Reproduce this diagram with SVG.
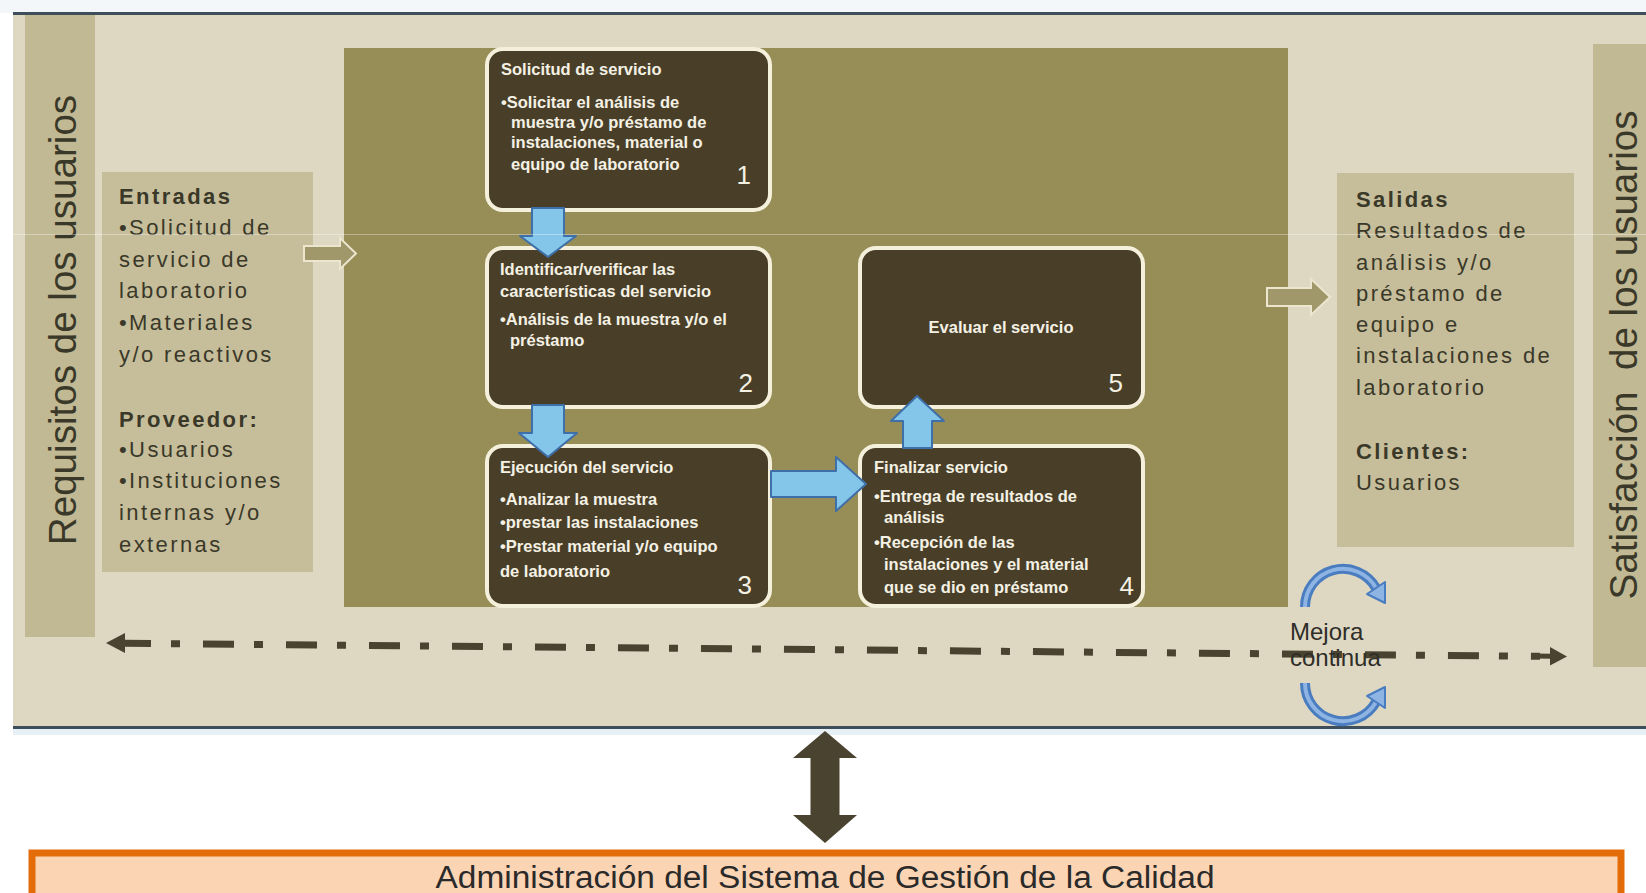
<svg xmlns="http://www.w3.org/2000/svg" width="1646" height="893" viewBox="0 0 1646 893">
<defs>
<style>
.bg{fill:#ded8c2}
.bar{fill:#c1b993}
.io{fill:#c6be9a}
.olive{fill:#978d56}
.proc{fill:#493f28;stroke:#f4f0dc;stroke-width:4}
.bt{font-family:'Liberation Sans',Arial,sans-serif;font-size:16.5px;font-weight:bold;fill:#f4f1e4}
.num{font-family:'Liberation Sans',Arial,sans-serif;font-size:26px;fill:#f4f1e4;text-anchor:end}
.side{font-family:'Liberation Sans',Arial,sans-serif;font-size:22px;letter-spacing:2.4px;fill:#3a3829}
.vt{font-family:'Liberation Sans',Arial,sans-serif;font-size:38.6px;fill:#3a3829;text-anchor:middle}
.blue{fill:#84c6ea;stroke:#3f6fa8;stroke-width:2;stroke-linejoin:round}
.olv{fill:#a0976a;stroke:#ece6cf;stroke-width:2}
.arcO{fill:none;stroke:#4a7cc0;stroke-width:10}
.arcI{fill:none;stroke:#8db4e2;stroke-width:4}
.arcH{fill:#8db4e2;stroke:#4a7cc0;stroke-width:2;stroke-linejoin:round}
.dk{fill:#4a4330}
</style>
</defs>
<rect x="0" y="0" width="1646" height="893" fill="#ffffff"/>
<rect x="0" y="0" width="1646" height="13" fill="#f3f7f9"/>
<rect class="bg" x="13" y="14" width="1633" height="713"/>
<line x1="13" y1="13.5" x2="1646" y2="13.5" stroke="#3e4e5a" stroke-width="3"/>
<line x1="13" y1="727.5" x2="1646" y2="727.5" stroke="#3e4e5a" stroke-width="3"/>
<rect x="13" y="729" width="1633" height="6" fill="#e6f0f5"/>

<g id="requisitos">
<rect class="bar" x="25" y="15" width="70" height="622"/>
<text class="vt" transform="translate(76 320) rotate(-90)">Requisitos de los usuarios</text>
</g>

<g id="entradas">
<rect class="io" x="102" y="172" width="211" height="400"/>
<text class="side"><tspan x="119" y="204" font-weight="bold">Entradas</tspan><tspan x="119" y="235">•Solicitud de</tspan><tspan x="119" y="267">servicio de</tspan><tspan x="119" y="298">laboratorio</tspan><tspan x="119" y="330">•Materiales</tspan><tspan x="119" y="362">y/o reactivos</tspan><tspan x="119" y="427" font-weight="bold">Proveedor:</tspan><tspan x="119" y="457">•Usuarios</tspan><tspan x="119" y="488">•Instituciones</tspan><tspan x="119" y="520">internas y/o</tspan><tspan x="119" y="552">externas</tspan></text>
</g>

<g id="proceso">
<rect class="olive" x="344" y="48" width="944" height="559"/>
</g>

<g id="paso1">
<rect class="proc" x="487" y="49" width="283" height="161" rx="16"/>
<text class="bt"><tspan x="501" y="75">Solicitud de servicio</tspan><tspan x="501" y="108">•Solicitar el análisis de</tspan><tspan x="511" y="128">muestra y/o préstamo de</tspan><tspan x="511" y="148">instalaciones, material o</tspan><tspan x="511" y="170">equipo de laboratorio</tspan></text>
<text class="num" x="751" y="184">1</text>
</g>

<g id="paso2">
<rect class="proc" x="487" y="248" width="283" height="159" rx="16"/>
<text class="bt"><tspan x="500" y="275">Identificar/verificar las</tspan><tspan x="500" y="297">características del servicio</tspan><tspan x="500" y="325">•Análisis de la muestra y/o el</tspan><tspan x="510" y="346">préstamo</tspan></text>
<text class="num" x="753" y="392">2</text>
</g>

<g id="paso3">
<rect class="proc" x="487" y="446" width="283" height="160" rx="16"/>
<text class="bt"><tspan x="500" y="473">Ejecución del servicio</tspan><tspan x="500" y="505">•Analizar la muestra</tspan><tspan x="500" y="528">•prestar  las instalaciones</tspan><tspan x="500" y="552">•Prestar material y/o equipo</tspan><tspan x="500" y="577">de laboratorio</tspan></text>
<text class="num" x="752" y="594">3</text>
</g>

<g id="paso4">
<rect class="proc" x="860" y="446" width="283" height="160" rx="16"/>
<text class="bt"><tspan x="874" y="473">Finalizar servicio</tspan><tspan x="874" y="502">•Entrega de resultados de</tspan><tspan x="884" y="523">análisis</tspan><tspan x="874" y="548">•Recepción de las</tspan><tspan x="884" y="570">instalaciones y el material</tspan><tspan x="884" y="593">que se dio en préstamo</tspan></text>
<text class="num" x="1134" y="595">4</text>
</g>

<g id="paso5">
<rect class="proc" x="860" y="248" width="283" height="159" rx="16"/>
<text class="bt" x="1001" y="333" text-anchor="middle" font-size="19.5">Evaluar el servicio</text>
<text class="num" x="1123" y="392">5</text>
</g>

<g id="salidas">
<rect class="io" x="1337" y="173" width="237" height="374"/>
<text class="side" letter-spacing="2.6"><tspan x="1356" y="207" font-weight="bold">Salidas</tspan><tspan x="1356" y="238">Resultados de</tspan><tspan x="1356" y="270">análisis y/o</tspan><tspan x="1356" y="301">préstamo de</tspan><tspan x="1356" y="332">equipo e</tspan><tspan x="1356" y="363">instalaciones de</tspan><tspan x="1356" y="395">laboratorio</tspan><tspan x="1356" y="459" font-weight="bold">Clientes:</tspan><tspan x="1356" y="490">Usuarios</tspan></text>
</g>

<g id="satisfaccion">
<rect class="bar" x="1593" y="44" width="53" height="623"/>
<text class="vt" font-size="38" transform="translate(1637 355) rotate(-90)">Satisfacción&#160; de los usuarios</text>
</g>

<g id="connectors">
<polygon class="olv" points="304,246 340,246 340,238 356,253.5 340,269 340,261 304,261"/>
<polygon class="olv" points="1267,288 1311,288 1311,279 1330,297 1311,315 1311,306 1267,306"/>
<polygon class="blue" points="532,208 564,208 564,236 576,236 548,257 520,236 532,236"/>
<polygon class="blue" points="532,405 564,405 564,433 577,433 548,457 519,433 532,433"/>
<polygon class="blue" points="771,471 836,471 836,457 866,484 836,511 836,497 771,497"/>
<polygon class="blue" points="903,448 932,448 932,421 944,421 917,396 891,421 903,421"/>
<line x1="124" y1="643.2" x2="1540" y2="656.3" stroke="#4a4330" stroke-width="7" stroke-dasharray="31 20 9 23" stroke-dashoffset="4"/>
<polygon class="dk" points="106,643 125,633 125,653"/>
<line x1="1534" y1="656" x2="1553" y2="656.2" stroke="#4a4330" stroke-width="5"/>
<polygon class="dk" points="1567,656.4 1550,647 1550,665.5"/>
<line x1="825" y1="752" x2="825" y2="820" stroke="#4a4330" stroke-width="29"/>
<polygon class="dk" points="825,731 857,758 793,758"/>
<polygon class="dk" points="825,843 857,815 793,815"/>
</g>

<g id="mejora">
<path class="arcO" d="M1305 607 A38 38 0 0 1 1376 588"/>
<path class="arcI" d="M1305 607 A38 38 0 0 1 1376 588"/>
<polygon class="arcH" points="1385,582 1367,594 1385,603"/>
<path class="arcO" d="M1305 683 A38 38 0 0 0 1376 702"/>
<path class="arcI" d="M1305 683 A38 38 0 0 0 1376 702"/>
<polygon class="arcH" points="1385,708 1367,696 1385,687"/>
<text font-family="'Liberation Sans',Arial,sans-serif" font-size="24" fill="#2e2d28"><tspan x="1290" y="640">Mejora</tspan><tspan x="1290" y="666">continua</tspan></text>
</g>

<g id="administracion">
<rect x="32" y="853" width="1589" height="52" fill="#fbd4b4" stroke="#e36c09" stroke-width="7"/>
<text x="825" y="888" text-anchor="middle" font-family="'Liberation Sans',Arial,sans-serif" font-size="31" fill="#2a2a2a" textLength="779" lengthAdjust="spacingAndGlyphs">Administración del Sistema de Gestión de la Calidad</text>
</g>

<line x1="0" y1="234.5" x2="1646" y2="234.5" stroke="#ffffff" stroke-opacity="0.35" stroke-width="1"/>
</svg>
